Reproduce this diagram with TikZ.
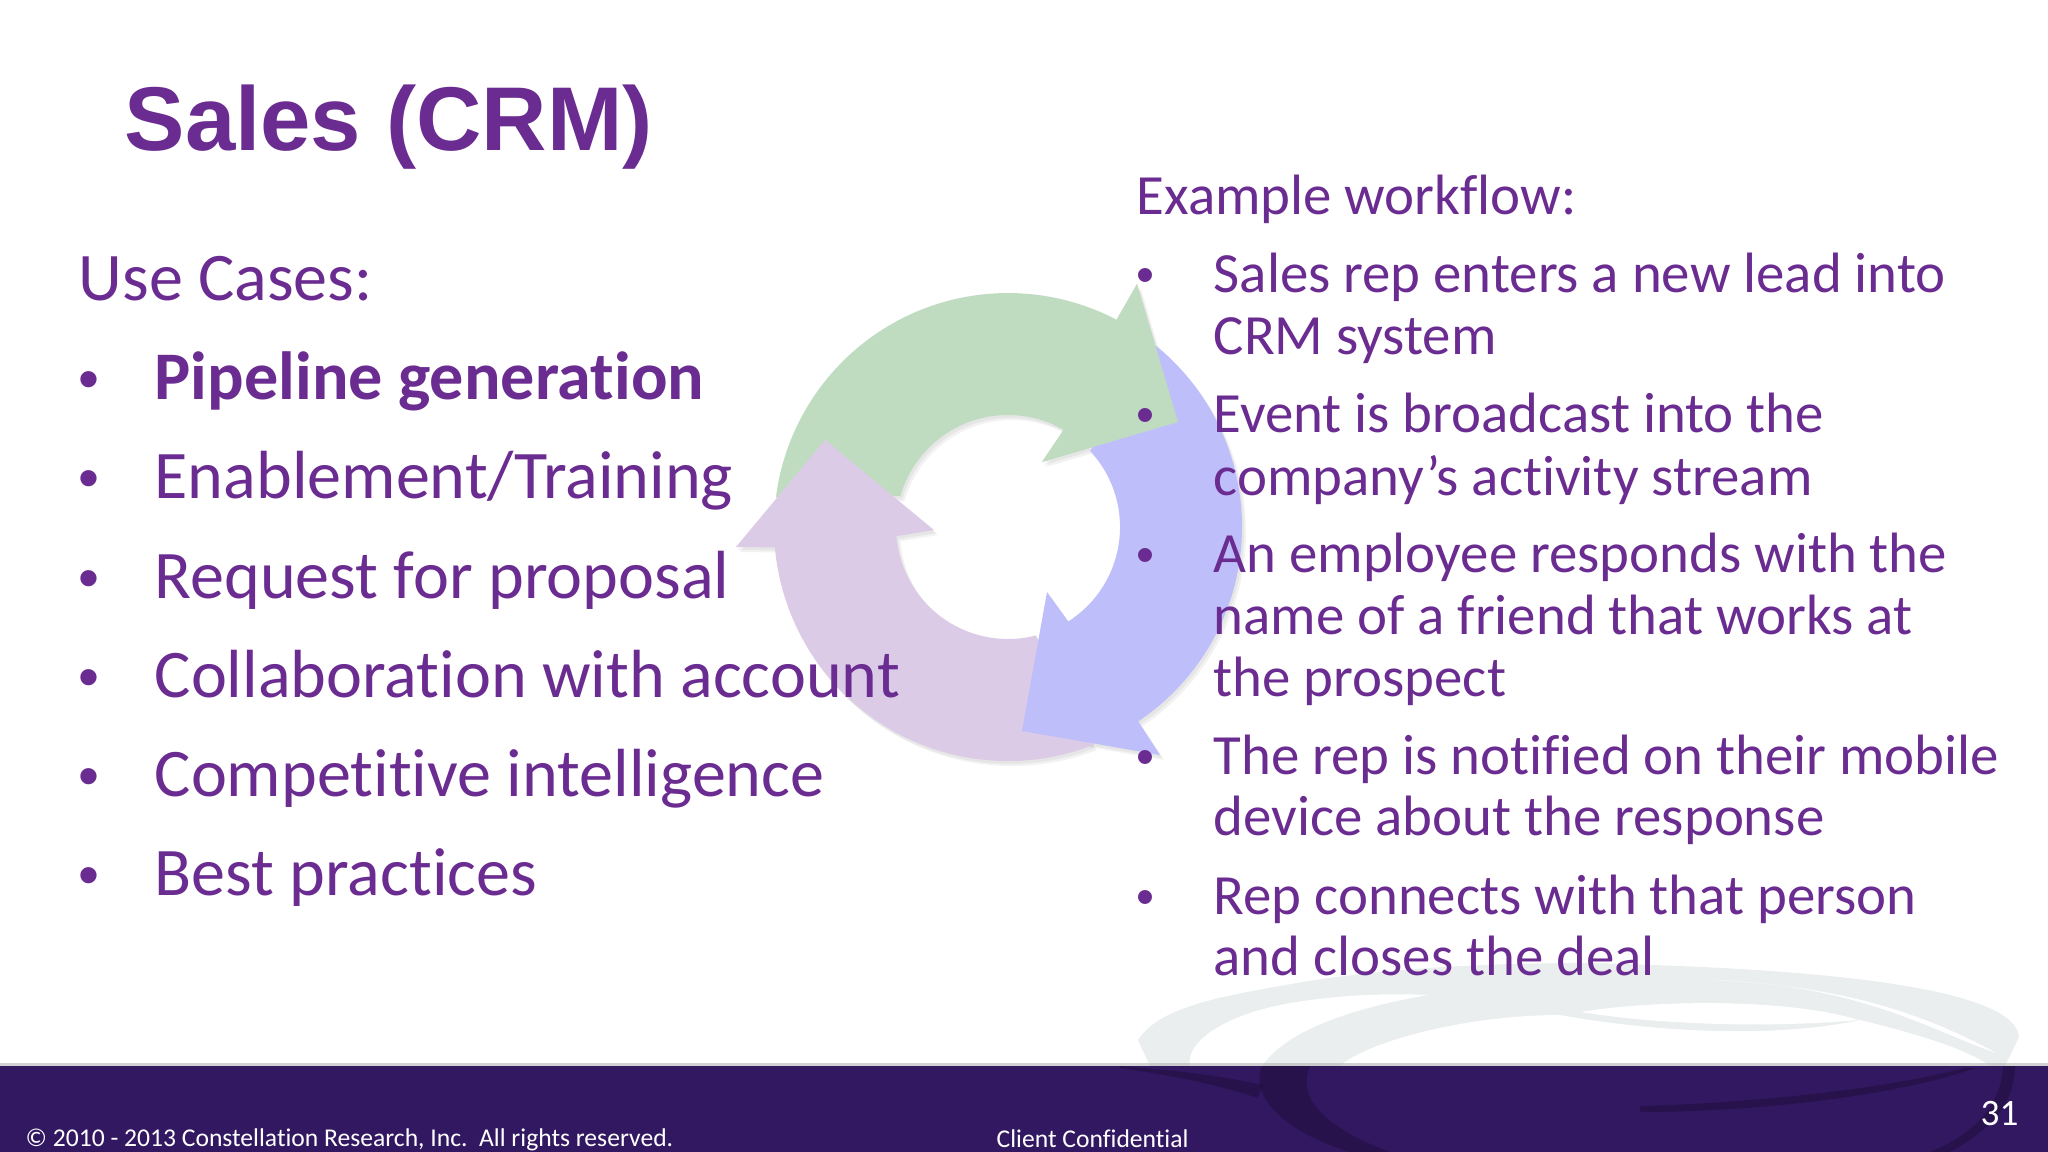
\documentclass[tikz,border=0pt]{standalone}
\usepackage{fontspec}
\setmainfont[Ligatures=NoCommon]{Carlito}
\newfontfamily\titlefont{Liberation Sans}
\definecolor{slidetext}{HTML}{6B2C91}
\definecolor{barcol}{HTML}{321861}
\definecolor{greenarc}{HTML}{BFDCC1}
\definecolor{bluearc}{HTML}{BEBEFA}
\definecolor{purplearc}{HTML}{DCCBE6}
\definecolor{swooshcol}{HTML}{EBEEEE}
\tikzset{
	left text/.style={anchor=base west, inner sep=0, text=slidetext, font=\fontsize{19.37}{22}\selectfont},
	left dot/.style={anchor=base west, inner sep=0, text=slidetext, font=\fontsize{17}{20}\selectfont\titlefont},
	right text/.style={anchor=base west, inner sep=0, text=slidetext, font=\fontsize{16.17}{20}\selectfont},
	right dot/.style={anchor=base west, inner sep=0, text=slidetext, font=\fontsize{14.6}{18}\selectfont\titlefont},
	foot text/.style={anchor=base west, inner sep=0, text=white, font=\fontsize{7.28}{9}\selectfont},
	dark mark/.style={black, opacity=0.22},
}
\def\lefttext(#1,#2)#3{\node[left text] at (#1, #2) {#3};}
\def\righttext(#1,#2)#3{\node[right text] at (#1, #2) {#3};}
\def\greenband{(775.9, 497.3) arc (187.3:297.8:234) -- (1137, 284) -- (1178, 422) -- (1042, 462) -- (1063.7, 429.8) arc (299.8:196:112) -- cycle}
\def\purpleband{(1092.6, 745.2) arc (68.8:175:234) -- (736, 547) -- (825, 440) -- (934, 530) -- (896.4, 536.2) arc (175.3:75.6:112) -- cycle}
\def\blueband{(1156.2, 345.9) arc (-50.7:56.2:234) -- (1160, 755) -- (1022, 731) -- (1047, 592) -- (1068.2, 621.5) arc (57.5:-42.8:112) -- cycle}
\begin{document}
\begin{tikzpicture}[x=0.01cm, y=-0.01cm]
	\useasboundingbox (0, 0) rectangle (2048, 1152);

	%%%%% BACK SWOOSH %%%%%
	\fill[swooshcol] (1138, 1040) .. controls (1160, 1005) and (1230, 995) .. (1297, 983) .. controls (1400, 965) and (1550, 960) .. (1652, 965) .. controls (1800, 970) and (2015, 985) .. (2019, 1037) -- (2005, 1066) -- (1150, 1066) -- cycle;
	\fill[white] (1190, 1066) .. controls (1185, 1040) and (1230, 1012) .. (1297, 1002) .. controls (1340, 995) and (1390, 993) .. (1428, 995) .. controls (1370, 1005) and (1290, 1025) .. (1262, 1066) -- cycle;
	\fill[white] (1712, 980) .. controls (1810, 985) and (1900, 1000) .. (1996, 1053) .. controls (1930, 1030) and (1860, 985) .. (1712, 980) -- cycle;
	\fill[white] (1340, 1066) .. controls (1370, 1040) and (1470, 1015) .. (1560, 1015) .. controls (1640, 1030) and (1770, 1040) .. (1860, 1020) .. controls (1900, 1030) and (1960, 1045) .. (1990, 1066) -- cycle;
	\fill[white] (1581, 1012) .. controls (1650, 1000) and (1790, 998) .. (1858, 1020) .. controls (1770, 1028) and (1660, 1025) .. (1581, 1012) -- cycle;

	%%%%% RING %%%%%
	\foreach \offs in {2, 4} {
		\fill[black, opacity=0.05, shift={(\offs, \offs+1)}] \greenband;
		\fill[black, opacity=0.05, shift={(\offs, \offs+1)}] \purpleband;
		\fill[black, opacity=0.05, shift={(\offs, \offs+1)}] \blueband;
	}
	\fill[greenarc] \greenband;
	\fill[purplearc] \purpleband;
	\fill[bluearc] \blueband;
	\fill[greenarc] (1118, 317) -- (1137, 284) -- (1178, 422) -- (1042, 462) -- (1063.7, 429.8) -- cycle;

	%%%%% TITLE %%%%%
	\node[anchor=base west, inner sep=0, text=slidetext, font=\fontsize{25.75}{30}\selectfont\titlefont\bfseries] at (124, 151) {Sales (CRM)};

	%%%%% USE CASES %%%%%
	\lefttext(78, 301){Use Cases:}
	\foreach \ypos/\itemtext in {400/\textbf{Pipeline generation}, 499/Enablement\slash Training, 598/Request for proposal, 697/Collaboration with account, 796/Competitive intelligence, 895/Best practices} {
		\node[left dot] at (78, \ypos) {•};
		\lefttext(154, \ypos){\itemtext}
	}

	%%%%% WORKFLOW %%%%%
	\righttext(1136, 215){Example workflow:}
	\foreach \ypos in {293, 433, 573, 774, 914} {
		\node[right dot] at (1136, \ypos) {•};
	}
	\foreach \ypos/\itemtext in {293/Sales rep enters a new lead into, 355/CRM system, 433/Event is broadcast into the, 495/company’s activity stream, 573/An employee responds with the, 634/name of a friend that works at, 696/the prospect, 774/The rep is notified on their mobile, 835/device about the response, 914/Rep connects with that person, 975/and closes the deal} {
		\righttext(1213, \ypos){\itemtext}
	}

	%%%%% FOOTER %%%%%
	\fill[black!30, opacity=0.6] (0, 1063) rectangle (2048, 1067);
	\fill[barcol] (0, 1066) rectangle (2048, 1152);
	\fill[dark mark] (1262, 1066) .. controls (1250, 1095) and (1280, 1130) .. (1350, 1152) -- (1390, 1152) .. controls (1330, 1130) and (1295, 1100) .. (1310, 1066) -- cycle;
	\fill[dark mark] (1120, 1068) .. controls (1170, 1075) and (1220, 1085) .. (1258, 1098) -- (1262, 1085) .. controls (1220, 1075) and (1170, 1070) .. (1120, 1066) -- cycle;
	\fill[dark mark] (2003, 1066) .. controls (2002, 1095) and (1985, 1130) .. (1930, 1152) -- (1950, 1152) .. controls (2000, 1125) and (2015, 1095) .. (2015, 1066) -- cycle;
	\fill[dark mark] (1640, 1112) .. controls (1760, 1112) and (1900, 1095) .. (1975, 1068) -- (1965, 1068) .. controls (1880, 1090) and (1750, 1103) .. (1640, 1106) -- cycle;
	\node[foot text] at (25, 1146) {© 2010 - 2013 Constellation Research, Inc.\ \ All rights reserved.};
	\node[foot text] at (996, 1147) {Client Confidential};
	\node[anchor=base west, inner sep=0, text=white, font=\fontsize{10.6}{12}\selectfont] at (1980, 1125) {31};
\end{tikzpicture}
\end{document}
